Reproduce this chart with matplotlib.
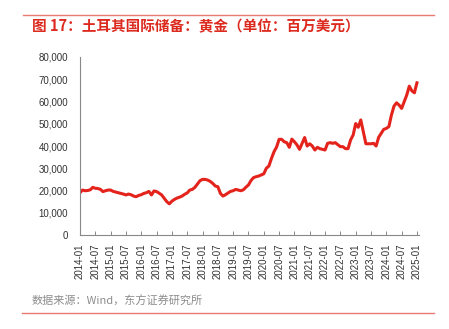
import numpy as np
import pandas as pd
import matplotlib.pyplot as plt
from matplotlib.lines import Line2D

# Turkey international reserves: gold, monthly, USD million
start_month = "2014-01"
end_month = "2025-01"
gold_reserves = [
    19000, 20200, 19900, 20000, 20300, 21400, 21000, 20900, 20500, 19500, 19900, 20200,  # 2014
    20200, 19600, 19300, 19000, 18700, 18400, 18000, 18400, 18100, 17500, 17200, 17800,  # 2015
    18100, 18700, 19000, 19600, 18000, 19800, 19500, 18800, 18000, 16500, 15000, 14000,  # 2016
    15200, 16000, 16600, 17000, 17500, 18300, 18900, 20200, 20500, 21400, 22900, 24400,  # 2017
    25000, 25000, 24700, 24100, 23200, 22000, 21700, 18700, 17500, 18100, 18900, 19600,  # 2018
    19900, 20500, 20200, 19900, 20300, 21500, 22500, 24500, 25800, 26200, 26500, 27000,  # 2019
    27500, 30000, 31000, 34400, 37400, 39500, 43000, 43000, 41900, 41500, 39400, 43100,  # 2020
    41900, 40500, 38500, 41200, 43800, 40000, 41000, 40000, 38200, 39400, 38800, 38500,  # 2021
    38200, 41200, 41500, 41200, 41500, 40600, 39700, 39700, 38800, 38800, 42700, 44900,  # 2022
    50100, 48400, 51700, 46400, 41000, 41000, 41000, 41200, 40000, 43900, 45700, 47500,  # 2023
    47900, 48700, 53900, 57900, 59400, 58400, 56900, 59900, 62900, 66900, 64800, 63900,  # 2024
    68400,                                                                                # 2025
]
y_ticks = [0, 10000, 20000, 30000, 40000, 50000, 60000, 70000, 80000]

title_text = "图 17：土耳其国际储备：黄金（单位：百万美元）"
source_text = "数据来源：Wind，东方证券研究所"

months = pd.period_range(start_month, end_month, freq="M")
x = np.arange(len(months))

plt.rcParams['font.family'] = ['Liberation Sans', 'Noto Sans CJK SC', 'DejaVu Sans']

fig = plt.figure(figsize=(4.49, 3.29), dpi=100)
W, H = 449, 329

# header and footer rules
fig.add_artist(Line2D([23 / W, 434 / W], [1 - 15 / H, 1 - 15 / H], color='#ea7a74', lw=1.0))
fig.add_artist(Line2D([22 / W, 434 / W], [1 - 313 / H, 1 - 313 / H], color='#ea7a74', lw=1.0))
fig.text(32 / W, 1 - 26 / H, title_text, color='#dc2a1f', fontsize=10.5, fontweight='bold',
         family=['Noto Sans CJK SC', 'DejaVu Sans'], va='center', ha='left')
fig.text(32 / W, 1 - 301 / H, source_text, color='#8c8c8c', fontsize=8,
         family=['Noto Sans CJK SC', 'DejaVu Sans'], va='center', ha='left')

ax = fig.add_axes([80 / W, 1 - 235 / H, 339.5 / W, 178 / H])
ax.plot(x, gold_reserves, color='#e3231c', lw=2.2, solid_joinstyle='round')

ax.set_xlim(0, 133)
ax.set_ylim(0, 80000)
ax.set_yticks(y_ticks)
ax.set_yticklabels([f"{v:,}" for v in y_ticks])
tick_pos = x[::6]
ax.set_xticks(tick_pos)
ax.set_xticklabels([str(months[i]) for i in tick_pos], rotation=90)

for side in ['top', 'right']:
    ax.spines[side].set_visible(False)
for side in ['left', 'bottom']:
    ax.spines[side].set_color('#888888')
    ax.spines[side].set_linewidth(0.8)

ax.tick_params(axis='y', length=0, pad=8.5, labelsize=7, labelcolor='#333333')
ax.tick_params(axis='x', direction='in', length=3, width=0.7, color='#888888',
               pad=6, labelsize=7, labelcolor='#333333')

fig.savefig('out.png', dpi=100)
